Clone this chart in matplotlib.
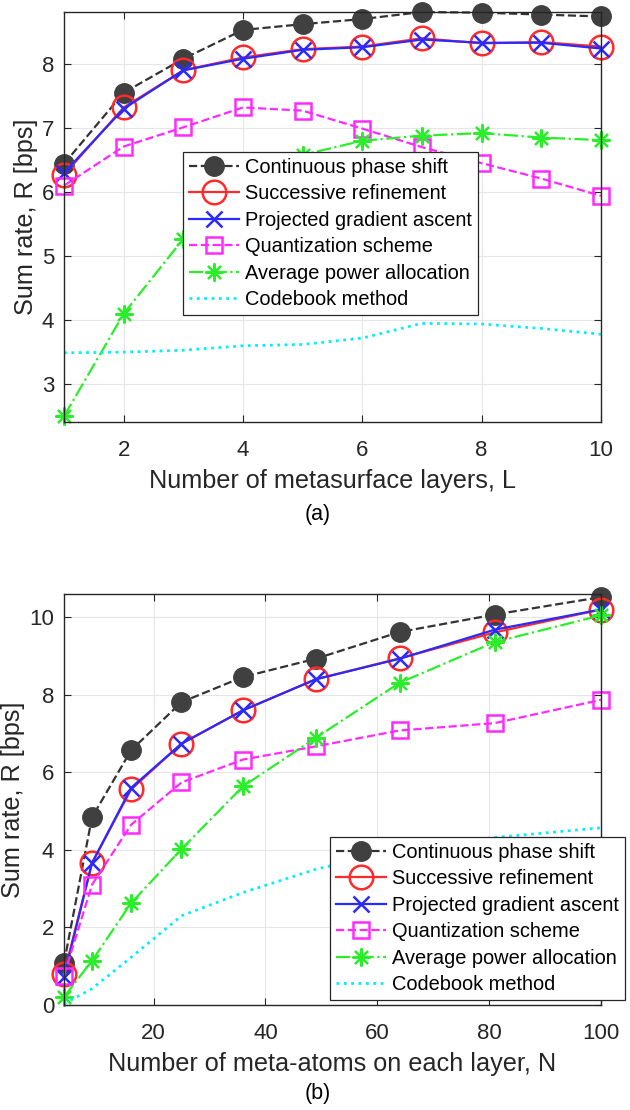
import matplotlib
matplotlib.use("Agg")
import matplotlib.pyplot as plt
import numpy as np

plt.rcParams['font.family'] = ['Liberation Sans', 'DejaVu Sans']

# ---------------- data (a) ----------------
layers = [1, 2, 3, 4, 5, 6, 7, 8, 9, 10]
a_continuous = [6.44, 7.55, 8.08, 8.53, 8.62, 8.70, 8.81, 8.80, 8.77, 8.74]
a_successive = [6.27, 7.32, 7.90, 8.10, 8.23, 8.27, 8.40, 8.32, 8.34, 8.27]
a_projected = [6.30, 7.30, 7.90, 8.08, 8.22, 8.26, 8.38, 8.33, 8.33, 8.24]
a_quantization = [6.10, 6.71, 7.01, 7.32, 7.27, 6.99, 6.70, 6.45, 6.21, 5.94]
a_average = [2.50, 4.10, 5.27, 6.15, 6.58, 6.80, 6.88, 6.92, 6.85, 6.81]
a_codebook = [3.49, 3.50, 3.53, 3.60, 3.62, 3.72, 3.95, 3.94, 3.87, 3.78]
a_xticks = [2, 4, 6, 8, 10]
a_yticks = [3, 4, 5, 6, 7, 8]

# ---------------- data (b) ----------------
atoms = [4, 9, 16, 25, 36, 49, 64, 81, 100]
b_continuous = [1.08, 4.84, 6.57, 7.81, 8.46, 8.93, 9.62, 10.07, 10.52]
b_successive = [0.80, 3.66, 5.56, 6.74, 7.60, 8.40, 8.94, 9.61, 10.20]
b_projected = [0.73, 3.66, 5.60, 6.74, 7.60, 8.40, 8.93, 9.68, 10.20]
b_quantization = [0.76, 3.10, 4.65, 5.74, 6.33, 6.67, 7.08, 7.27, 7.87]
b_average = [0.21, 1.14, 2.63, 4.02, 5.64, 6.89, 8.31, 9.36, 10.05]
b_codebook = [0.03, 0.42, 1.23, 2.30, 2.90, 3.50, 4.00, 4.32, 4.57]
b_xticks = [20, 40, 60, 80, 100]
b_yticks = [0, 2, 4, 6, 8, 10]

labels = ["Continuous phase shift", "Successive refinement",
          "Projected gradient ascent", "Quantization scheme",
          "Average power allocation", "Codebook method"]

W, H = 630, 1110
fig = plt.figure(figsize=(W / 100, H / 100), dpi=100)

AX_COL = '#262626'
BLACK = '#404040'
RED = '#ff2a2a'
BLUE = '#2a2aff'
MAG = '#ff2aff'
GREEN = '#2aee2a'
CYAN = '#00f0ff'


def draw(ax, x, ys):
    c, s, p, q, a, cb = ys
    ax.plot(x, c, linestyle='--', color='#333333', lw=1.6, marker='o',
            ms=14, mfc=BLACK, mec=BLACK, label=labels[0], clip_on=False)
    ax.plot(x, s, linestyle='-', color=RED, lw=1.6, marker='o', ms=17,
            mfc='none', mec=RED, mew=1.8, label=labels[1], clip_on=False)
    ax.plot(x, p, linestyle='-', color=BLUE, lw=1.6, marker='x', ms=11,
            mec=BLUE, mew=1.8, label=labels[2], clip_on=False)
    ax.plot(x, q, linestyle='--', color=MAG, lw=1.6, marker='s', ms=11,
            mfc='none', mec=MAG, mew=1.8, label=labels[3], clip_on=False)
    ax.plot(x, a, linestyle='-.', color=GREEN, lw=1.6, marker=(8, 2, 0),
            ms=13, mec=GREEN, mew=1.6, label=labels[4], clip_on=False)
    ax.plot(x, cb, linestyle=':', color=CYAN, lw=2.0, label=labels[5])


def style(ax):
    ax.grid(True, color='#e6e6e6', lw=0.8)
    ax.set_axisbelow(True)
    for sp in ax.spines.values():
        sp.set_color(AX_COL)
        sp.set_linewidth(1.0)
    ax.tick_params(direction='in', top=True, right=True, length=5,
                   width=0.8, color=AX_COL, labelcolor=AX_COL,
                   labelsize=16)
    ax.tick_params(axis='x', pad=13)
    ax.tick_params(axis='y', pad=7)


def legend(ax, anchor):
    lg = ax.legend(loc='upper left', bbox_to_anchor=anchor,
                   bbox_transform=fig.transFigure, fontsize=14.4,
                   fancybox=False, framealpha=1, edgecolor='#262626',
                   handlelength=2.5, handletextpad=0.3, borderpad=0.3,
                   labelspacing=0.37, borderaxespad=0)
    lg.get_frame().set_linewidth(0.9)
    for t in lg.get_texts():
        t.set_color('black')
    return lg


# ---------------- (a) ----------------
ax1 = fig.add_axes([64 / W, 1 - 422 / H, 537 / W, 410 / H])
draw(ax1, layers, [a_continuous, a_successive, a_projected, a_quantization,
                   a_average, a_codebook])
ax1.set_xlim(1, 10)
ax1.set_ylim(2.41, 8.81)
ax1.set_xticks(a_xticks)
ax1.set_yticks(a_yticks)
style(ax1)
ax1.set_xlabel('Number of metasurface layers, L', fontsize=18.2,
               color=AX_COL, labelpad=6)
ax1.set_ylabel('Sum rate, R [bps]', fontsize=18.2, color=AX_COL, labelpad=3)
legend(ax1, (183 / W, 1 - 152 / H))
fig.text(318 / W, 1 - 515 / H, '(a)', ha='center', va='center',
         fontsize=15.5, color='black')

# ---------------- (b) ----------------
ax2 = fig.add_axes([64 / W, 1 - 1005 / H, 537 / W, 411 / H])
draw(ax2, atoms, [b_continuous, b_successive, b_projected, b_quantization,
                  b_average, b_codebook])
ax2.set_xlim(4, 100)
ax2.set_ylim(0, 10.6)
ax2.set_xticks(b_xticks)
ax2.set_yticks(b_yticks)
style(ax2)
ax2.set_xlabel('Number of meta-atoms on each layer, N', fontsize=18.2,
               color=AX_COL, labelpad=6)
ax2.set_ylabel('Sum rate, R [bps]', fontsize=18.2, color=AX_COL, labelpad=3)
legend(ax2, (330 / W, 1 - 837 / H))
fig.text(318 / W, 1 - 1093 / H, '(b)', ha='center', va='center',
         fontsize=15.5, color='black')

fig.savefig('out.png', dpi=100)
